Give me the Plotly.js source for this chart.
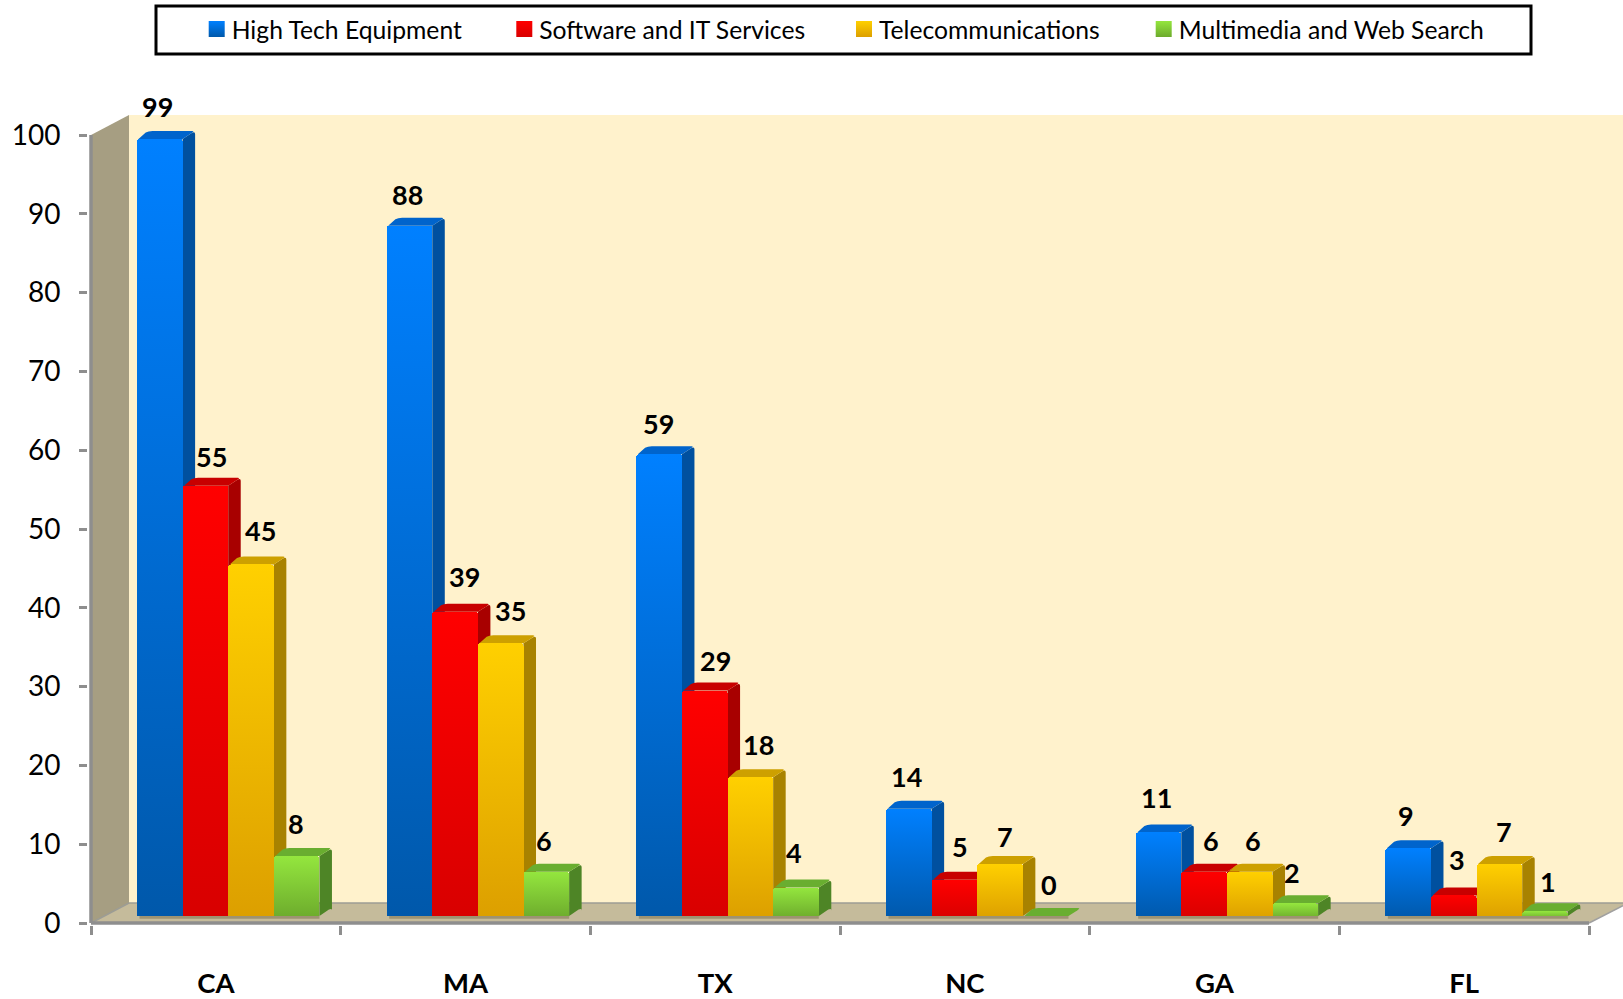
<!DOCTYPE html>
<html><head><meta charset="utf-8">
<script src="https://cdn.plot.ly/plotly-3.0.1.min.js"></script>
<style>html,body{margin:0;padding:0;background:#fff}#chart{width:1623px;height:999px}</style>
</head><body><div id="chart"></div>
<script>
const categories = ['CA','MA','TX','NC','GA','FL'];
const seriesNames = ['High Tech Equipment','Software and IT Services','Telecommunications','Multimedia and Web Search'];
const highTech  = [99,88,59,14,11,9];
const software  = [55,39,29,5,6,3];
const telecom   = [45,35,18,7,6,7];
const multimedia= [8,6,4,0,2,1];
const yTicks = [0,10,20,30,40,50,60,70,80,90,100];

/* styling */
const frontTop = ['#0080FF','#FF0000','#FFD000','#94E63E'];
const frontBot = ['#0058AA','#D80000','#DC9F00','#6CAA2C'];
const sideCol  = ['#00509F','#A80000','#A88200','#4E8526'];
const topCol   = ['#0064CC','#C80000','#CDA000','#69AE30'];
const floorCol = '#C5BB9B';
const labelNudgeX = [[-2,-2,-1,-2,-2,-2],[6,9,11,6,7,3],[9,10,8,5,3,5],[-1,-2,-2,3,-3,3]];
const labelNudgeY = [[-1,1,1,-1,-3,-1],[2,-3,2,-1,0,-4],[-2,-1,-1,4,0,-1],[-1,0,-3,-3,1,2]];
const legendX = [191.7,499.3,839,1138.7];

const all = [highTech,software,telecom,multimedia];
const pxPerCat=249.67, pxPerVal=7.88;
const barStart=-0.3158, barW=0.1827, base=0.5, visibleBase=0.89;
const dx=12.5/pxPerCat, dy=8/pxPerVal;
const wx=38/pxPerCat, wy=20/pxPerVal;
const xEnd=5.636;
const plotL=88, plotT=60, plotB=74;
const plotH=999-plotT-plotB, plotW=1623-plotL;
const rx=3/pxPerCat;

const poly=(pts)=>'M'+pts.map(p=>p[0]+','+p[1]).join('L')+'Z';
const shapes=[];
const fillS=(path,color,extra)=>shapes.push(Object.assign({type:'path',xref:'x',yref:'y',path,fillcolor:color,line:{width:0},layer:'below'},extra||{}));
const lineS=(x0,y0,x1,y1,w,c,layer)=>shapes.push({type:'line',xref:'x',yref:'y',x0,y0,x1,y1,line:{color:c,width:w},layer:layer||'below'});

fillS(poly([[-0.5+wx,wy],[xEnd,wy],[xEnd,100+wy],[-0.5+wx,100+wy]]),'#FFF2CC');
fillS(poly([[-0.5,0],[-0.5+wx,wy],[-0.5+wx,100+wy],[-0.5,100]]),'#A69E82');
fillS(poly([[-0.5,0],[-0.5+wx,wy],[xEnd,wy],[xEnd,2.2],[5.5,0]]),floorCol);
lineS(-0.5+wx,wy,xEnd,wy,1.5,'#9c9c94');
lineS(-0.5,0,-0.5+wx,wy,1.5,'#9c9c94');
lineS(5.5,0,xEnd,2.2,1.5,'#a0a0a0');
lineS(-0.5,0,-0.5,100,3.5,'#8e8e8e');

all.forEach((vals,s)=>{
  vals.forEach((v,i)=>{
    const x0=i+barStart+s*barW, x1=x0+barW, t=Math.max(base+v,visibleBase);
    const bx=x1+dx, ty=t+dy, sb=visibleBase;
    if(v>0){
      fillS(`M${x1},${sb}L${x1},${t}L${x1+dx*0.7},${t+dy*0.7}Q${bx},${ty} ${bx},${ty-dy*0.4}L${bx},${sb+dy*0.7}Q${bx},${sb+dy} ${bx-rx},${sb+dy*0.8}Z`,sideCol[s]);
    }
    fillS(`M${x0+dx*0.12},${t}L${x1},${t}L${x1+dx*0.7},${t+dy*0.7}Q${bx},${ty} ${bx-rx},${ty}L${x0+dx+rx},${ty}Q${x0+dx*0.9},${ty} ${x0+dx*0.7},${t+dy*0.8}Z`,topCol[s]);
  });
});

/* floor strip in front of the bars, so their feet stand on the floor */
categories.forEach((c,i)=>{
  const a=i+barStart, b=a+4*barW;
  shapes.push({type:'rect',xref:'x',yref:'y',x0:a-0.002,x1:b+0.002,y0:0,y1:visibleBase,fillcolor:floorCol,line:{width:0},layer:'above'});
  shapes.push({type:'rect',xref:'x',yref:'y',x0:a+0.01,x1:b,y0:visibleBase-0.35,y1:visibleBase,fillcolor:'rgba(70,55,20,0.30)',line:{width:0},layer:'above'});
});
lineS(-0.5,0,5.5,0,3.5,'#8e8e8e','above');

const legendKeys=['legend','legend2','legend3','legend4'];
const traces=all.map((vals,s)=>({
  type:'bar',name:seriesNames[s],x:categories,y:vals,base:base,
  offset:barStart+s*barW,width:barW,
  marker:{color:frontTop[s],line:{width:0},cornerradius:3},
  legend:legendKeys[s],showlegend:true,hoverinfo:'skip'
}));

const annotations=[];
all.forEach((vals,s)=>vals.forEach((v,i)=>{
  annotations.push({x:i+barStart+(s+0.5)*barW,y:base+v,xref:'x',yref:'y',
    text:String(v),showarrow:false,xanchor:'center',yanchor:'middle',
    xshift:labelNudgeX[s][i],yshift:31.7-labelNudgeY[s][i]*1.035,font:{family:'Lato',size:27,color:'#000',weight:700}});
}));

shapes.push({type:'rect',xref:'paper',yref:'paper',
  x0:(156-plotL)/plotW,x1:(1531-plotL)/plotW,
  y0:1-(54-plotT)/plotH,y1:1-(6-plotT)/plotH,
  fillcolor:'#fff',line:{color:'#000',width:3},layer:'above'});

const layout={
  width:1623,height:999,paper_bgcolor:'#fff',plot_bgcolor:'rgba(0,0,0,0)',
  margin:{l:plotL,r:0,t:plotT,b:plotB,pad:0},
  barmode:'overlay',bargap:0,
  font:{family:'Lato',color:'#000'},
  xaxis:{type:'category',categoryorder:'array',categoryarray:categories,
    range:[-0.5-3/pxPerCat,xEnd],tickson:'boundaries',ticks:'outside',ticklen:9,tickwidth:3,tickcolor:'#8e8e8e',
    showline:false,showgrid:false,zeroline:false,ticklabelstandoff:39,
    tickfont:{family:'Lato',size:27.5,color:'#000',weight:700}},
  yaxis:{range:[-0.254,109.52],tickvals:yTicks,ticks:'outside',ticklen:8,tickwidth:3,tickcolor:'#8e8e8e',
    showline:false,showgrid:false,zeroline:false,ticklabelstandoff:13,
    tickfont:{family:'Lato',size:28,color:'#000'}},
  shapes,annotations,showlegend:true
};
legendKeys.forEach((k,s)=>{
  layout[k]={xref:'container',yref:'container',x:legendX[s]/1623,y:1-29.5/999,xanchor:'left',yanchor:'middle',
    orientation:'h',bgcolor:'rgba(0,0,0,0)',borderwidth:0,font:{family:'Lato',size:24.7,color:'#000'},itemclick:false,itemdoubleclick:false};
});

Plotly.newPlot('chart',traces,layout,{displayModeBar:false,staticPlot:true}).then(gd=>{
  const svg=gd.querySelector('svg.main-svg');
  const NS='http://www.w3.org/2000/svg';
  let defs=svg.querySelector('defs');
  frontTop.forEach((c,s)=>{
    const g=document.createElementNS(NS,'linearGradient');
    g.setAttribute('id','grad'+s);g.setAttribute('x1','0');g.setAttribute('y1','0');g.setAttribute('x2','0');g.setAttribute('y2','1');
    [[0,c],[1,frontBot[s]]].forEach(st=>{const e=document.createElementNS(NS,'stop');e.setAttribute('offset',st[0]);e.setAttribute('stop-color',st[1]);g.appendChild(e);});
    defs.appendChild(g);
  });
  gd.querySelectorAll('.barlayer .trace.bars').forEach((t,s)=>{
    t.querySelectorAll('.point path').forEach(p=>{p.style.fill='url(#grad'+s+')';});
  });
  gd.querySelectorAll('.legendpoints').forEach((lp,idx)=>{
    lp.querySelectorAll('path').forEach(p=>{
      p.setAttribute('d','M8,8H-8V-8H8Z');
      p.setAttribute('transform','translate(25,0)');
      p.style.fill='url(#grad'+idx+')';p.style.stroke='none';
    });
  });
});
</script></body></html>
